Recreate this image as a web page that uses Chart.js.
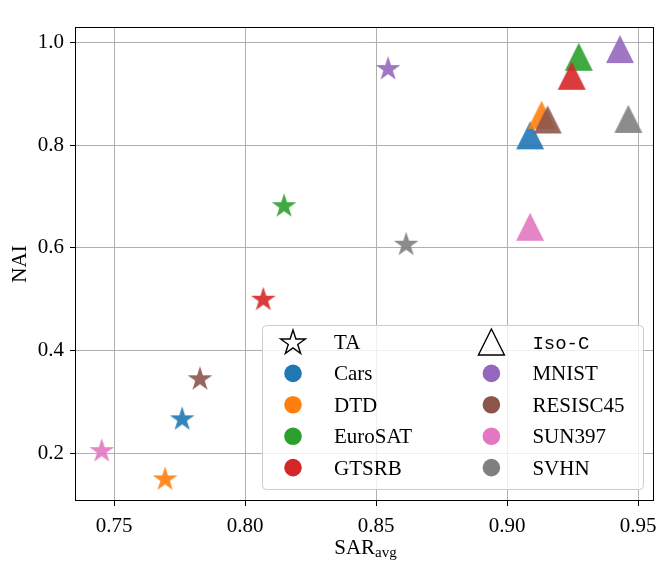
<!DOCTYPE html>
<html>
<head>
<meta charset="utf-8">
<script src="https://cdn.jsdelivr.net/npm/chart.js@4.4.1/dist/chart.umd.min.js"></script>
<style>
  html, body { margin: 0; padding: 0; background: #fff; }
</style>
</head>
<body>
<canvas id="chart" width="658" height="565"></canvas>
<script>
// task names and their colours (tab10)
var taskNames = ['Cars', 'DTD', 'EuroSAT', 'GTSRB', 'MNIST', 'RESISC45', 'SUN397', 'SVHN'];
var taskColors = ['#1f77b4', '#ff7f0e', '#2ca02c', '#d62728', '#9467bd', '#8c564b', '#e377c2', '#7f7f7f'];

// TA (stars)
var taSar = [0.7760, 0.7695, 0.8149, 0.8070, 0.8546, 0.7828, 0.7453, 0.8615];
var taNai = [0.266, 0.149, 0.681, 0.499, 0.948, 0.344, 0.204, 0.606];

// Iso-C (triangles)
var isoSar = [0.9088, 0.9132, 0.9274, 0.9247, 0.9431, 0.9155, 0.9088, 0.9463];
var isoNai = [0.819, 0.859, 0.972, 0.935, 0.987, 0.850, 0.641, 0.851];

var xTicks = [0.75, 0.80, 0.85, 0.90, 0.95];
var xTickLabels = ['0.75', '0.80', '0.85', '0.90', '0.95'];
var yTicks = [0.2, 0.4, 0.6, 0.8, 1.0];
var yTickLabels = ['0.2', '0.4', '0.6', '0.8', '1.0'];

var serif = '"Liberation Serif", "DejaVu Serif", serif';
var mono = '"Liberation Mono", "DejaVu Sans Mono", monospace';

function rgba(hex, a) {
  var n = parseInt(hex.slice(1), 16);
  return 'rgba(' + (n >> 16) + ',' + ((n >> 8) & 255) + ',' + (n & 255) + ',' + a + ')';
}

function starPath(g, cx, cy, r) {
  g.beginPath();
  for (var i = 0; i < 10; i++) {
    var rr = i % 2 ? r * 0.381966 : r;
    var a = -Math.PI / 2 + i * Math.PI / 5;
    var px = cx + rr * Math.cos(a), py = cy + rr * Math.sin(a);
    if (i === 0) g.moveTo(px, py); else g.lineTo(px, py);
  }
  g.closePath();
}

function triPath(g, cx, cy, h) {
  g.beginPath();
  g.moveTo(cx, cy - h);
  g.lineTo(cx - h, cy + h);
  g.lineTo(cx + h, cy + h);
  g.closePath();
}

function markerCanvas(kind, fill) {
  var c = document.createElement('canvas');
  c.width = 30; c.height = 30;
  var g = c.getContext('2d');
  if (kind === 'star') starPath(g, 15, 15, 13); else triPath(g, 15, 15, 14);
  g.fillStyle = fill;
  g.fill();
  return c;
}

var starStyles = taskColors.map(function (c) { return markerCanvas('star', rgba(c, 0.9)); });
var triStyles = taskColors.map(function (c) { return markerCanvas('tri', rgba(c, 0.9)); });

function pts(xs, ys) {
  return xs.map(function (x, i) { return { x: x, y: ys[i] }; });
}

// frame, x-axis label with subscript, and the two-column legend
var extras = {
  id: 'extras',
  afterDraw: function (chart) {
    var ctx = chart.ctx, a = chart.chartArea;
    ctx.save();
    ctx.strokeStyle = '#000';
    ctx.lineWidth = 1;
    ctx.strokeRect(a.left + 0.5, a.top + 0.5, a.width - 1, a.height - 1);

    // x label: SAR_avg
    ctx.fillStyle = '#000';
    ctx.textBaseline = 'alphabetic';
    ctx.textAlign = 'left';
    ctx.font = '21px ' + serif;
    var w1 = ctx.measureText('SAR').width;
    ctx.font = '15px ' + serif;
    var w2 = ctx.measureText('avg').width;
    var sx = (a.left + a.right) / 2 - (w1 + w2) / 2 + 1;
    ctx.font = '21px ' + serif;
    ctx.fillText('SAR', sx, 554);
    ctx.font = '15px ' + serif;
    ctx.fillText('avg', sx + w1, 557);

    // legend
    var w = 381, h = 164;
    var x0 = a.right - 11 - w, y0 = a.bottom - 12 - h;
    ctx.beginPath();
    ctx.roundRect(x0 + 0.5, y0 + 0.5, w, h, 4);
    ctx.fillStyle = 'rgba(255,255,255,0.8)';
    ctx.fill();
    ctx.strokeStyle = '#cccccc';
    ctx.stroke();

    var rows = [17, 48.4, 79.8, 111.2, 142.6];
    var cols = [{ m: 31, t: 72 }, { m: 229.4, t: 270.4 }];
    var heads = ['TA', 'Iso-C'];
    for (var c = 0; c < 2; c++) {
      var mx = x0 + cols[c].m, tx = x0 + cols[c].t;
      var ry = y0 + rows[0];
      ctx.strokeStyle = '#000';
      ctx.lineWidth = 1.4;
      if (c === 0) starPath(ctx, mx, ry + 1, 13); else triPath(ctx, mx, ry, 13);
      ctx.stroke();
      ctx.fillStyle = '#000';
      if (c === 0) { ctx.font = '21px ' + serif; ctx.fillText(heads[c], tx, ry + 7); }
      else { ctx.font = '19px ' + mono; ctx.fillText(heads[c], tx, ry + 7); }
      for (var r = 0; r < 4; r++) {
        var k = c * 4 + r;
        var yy = y0 + rows[r + 1];
        ctx.beginPath();
        ctx.arc(mx, yy, 8.8, 0, Math.PI * 2);
        ctx.fillStyle = taskColors[k];
        ctx.fill();
        ctx.fillStyle = '#000';
        ctx.font = '21px ' + serif;
        ctx.fillText(taskNames[k], tx, yy + 7);
      }
    }
    ctx.restore();
  }
};

new Chart(document.getElementById('chart'), {
  type: 'scatter',
  data: {
    datasets: [
      { label: 'TA', data: pts(taSar, taNai), pointStyle: starStyles, pointRadius: 13 },
      { label: 'Iso-C', data: pts(isoSar, isoNai), pointStyle: triStyles, pointRadius: 14 }
    ]
  },
  options: {
    responsive: false,
    animation: false,
    devicePixelRatio: 1,
    layout: { autoPadding: false, padding: { left: 0, right: 4, top: 27, bottom: 0 } },
    plugins: { legend: { display: false }, tooltip: { enabled: false } },
    scales: {
      x: {
        type: 'linear',
        min: 0.7351,
        max: 0.9561,
        afterBuildTicks: function (s) { s.ticks = xTicks.map(function (v) { return { value: v }; }); },
        afterFit: function (s) { s.height = 64; s.paddingLeft = 0; s.paddingRight = 0; },
        ticks: {
          padding: 8,
          color: '#000',
          font: { family: serif, size: 21 },
          callback: function (v, i) { return xTickLabels[i]; }
        },
        grid: { color: '#b0b0b0', lineWidth: 1, tickColor: '#000', tickLength: 5 },
        border: { display: false }
      },
      y: {
        type: 'linear',
        min: 0.107,
        max: 1.030,
        afterBuildTicks: function (s) { s.ticks = yTicks.map(function (v) { return { value: v }; }); },
        afterFit: function (s) { s.width = 75; s.paddingTop = 0; s.paddingBottom = 0; },
        ticks: {
          padding: 6,
          color: '#000',
          font: { family: serif, size: 21 },
          callback: function (v, i) { return yTickLabels[i]; }
        },
        title: {
          display: true,
          text: 'NAI',
          color: '#000',
          font: { family: serif, size: 21 },
          padding: { top: 8, bottom: 0 }
        },
        grid: { color: '#b0b0b0', lineWidth: 1, tickColor: '#000', tickLength: 5 },
        border: { display: false }
      }
    }
  },
  plugins: [extras]
});
</script>
</body>
</html>
